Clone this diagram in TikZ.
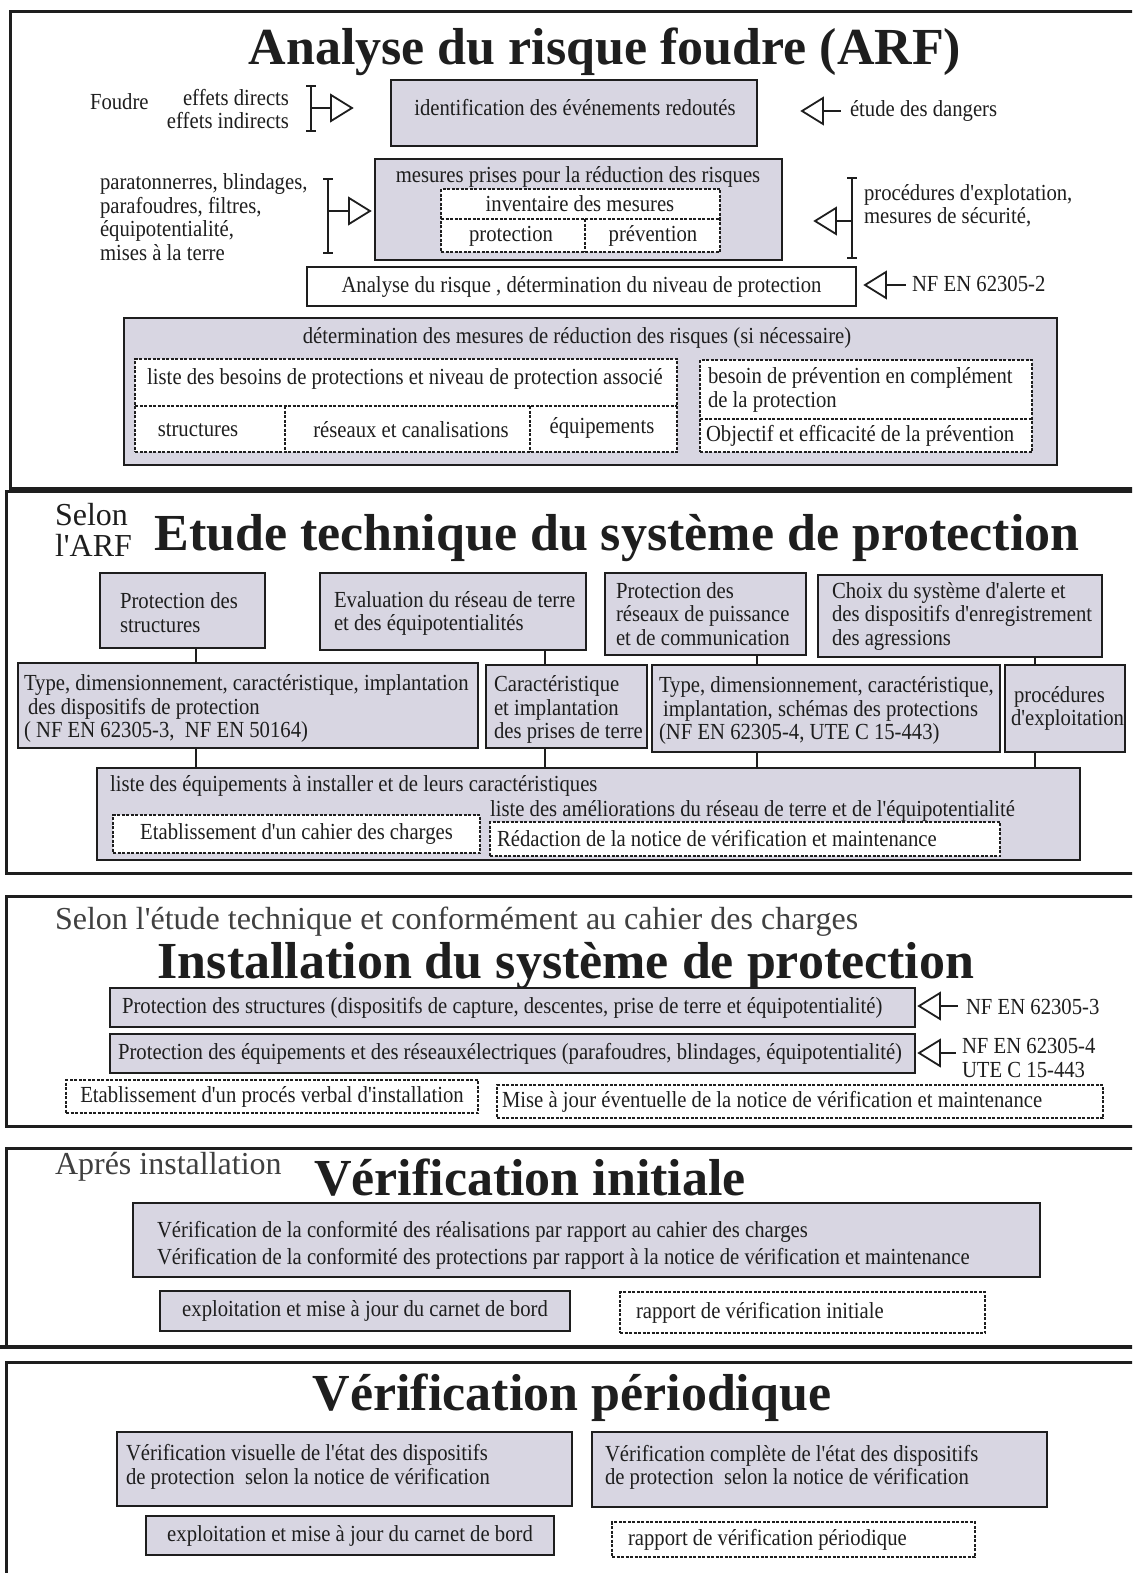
\documentclass[tikz,border=0pt]{standalone}
\usepackage{fontspec}
\setmainfont{Liberation Serif}[FakeStretch=0.9, Ligatures=TeXOff]
\newfontfamily\plainfont{Liberation Serif}
\definecolor{boxgrey}{RGB}{216,214,226}
\definecolor{ink}{RGB}{30,30,30}
\newcommand\myBody{\fontsize{23}{23.5}\selectfont}
\newcommand\myTitle{\plainfont\fontsize{52}{60}\selectfont\bfseries}
\newcommand\mySub{\plainfont\fontsize{32}{31}\selectfont}
\newcommand\mkbox[6]{\node[#1, minimum width={(#5)-(#3)}, minimum height={(#6)-(#4)}, anchor=north west] (#2) at (#3,#4) {};}
\newcommand\harrR[2]{\draw[harr] ({#1-21},{#2-13}) -- (#1,#2) -- ({#1-21},{#2+13}) -- cycle;}
\newcommand\harrL[2]{\draw[harr] ({#1+21},{#2-13}) -- (#1,#2) -- ({#1+21},{#2+13}) -- cycle;}
\newcommand\brk[3]{\draw[brk] (#1,#2) -- (#1,#3); \draw[brk] ({#1-5},#2) -- ({#1+5},#2); \draw[brk] ({#1-5},#3) -- ({#1+5},#3);}
\tikzset{
  gbox/.style={draw=ink, line width=2.2pt, fill=boxgrey, inner sep=0pt, outer sep=0pt},
  wbox/.style={draw=ink, line width=2.2pt, fill=white, inner sep=0pt, outer sep=0pt},
  dbox/.style={draw=ink, line width=1.5pt, dash pattern=on 3pt off 1.5pt, fill=white, inner sep=0pt, outer sep=0pt},
  dline/.style={draw=ink, line width=1.5pt, dash pattern=on 3pt off 1.5pt},
  txt/.style={inner sep=0pt, outer sep=0pt, font=\myBody, align=left, text=ink},
  ttl/.style={inner sep=0pt, outer sep=0pt, font=\myTitle, text=ink},
  sub/.style={inner sep=0pt, outer sep=0pt, font=\mySub, align=left, text=ink!85},
  frame/.style={draw=ink, line width=3pt},
  conn/.style={draw=ink, line width=1.8pt},
  brk/.style={draw=ink, line width=2pt},
  harr/.style={draw=ink, fill=white, line width=1.8pt, line join=miter},
}
\begin{document}
\begin{tikzpicture}[x=1pt, y=-1pt]
\useasboundingbox (0,0) rectangle (1132,1573);
\clip (0,0) rectangle (1132,1573);
\fill[white] (0,0) rectangle (1132,1573);

% ================= SECTION 1 =================
\draw[frame] (1140,12) -- (10,12) -- (10,488) -- (1140,488);
\node[ttl, anchor=base] (t1) at (605,65) {Analyse du risque foudre (ARF)};

\node[txt, anchor=west] (foudre) at (90,102) {Foudre};
\node[txt, anchor=east, align=right] (effets) at (289,109) {effets directs\\effets indirects};
\brk{311}{86}{131}
\draw[conn] (311,108) -- (331,108);
\harrR{352}{108}

\mkbox{gbox}{idb}{391}{80}{757}{146}
\node[txt] (idbt) at (575,108) {identification des événements redoutés};

\harrL{802}{111}
\draw[conn] (823,111) -- (841,111);
\node[txt, anchor=west] (etude) at (850,111) {étude des dangers};

\node[txt, anchor=west] (para) at (100,217) {paratonnerres, blindages,\\parafoudres, filtres,\\équipotentialité,\\mises à la terre};
\brk{328}{179}{253}
\draw[conn] (328,211) -- (349,211);
\harrR{370}{211}

\mkbox{gbox}{mes}{375}{159}{782}{260}
\node[txt] (mest) at (578,177) {mesures prises pour la réduction des risques};
\mkbox{dbox}{inv}{441}{189}{720}{252}
\draw[dline] (inv.west |- 0,219) -- (inv.east |- 0,219);
\coordinate (kv) at (585,0);
\draw[dline] (kv |- 0,219) -- (kv |- inv.south);
\node[txt] (invt) at (580,204) {inventaire des mesures};
\node[txt] (prot) at (511,236) {protection};
\node[txt] (prev) at (653,236) {prévention};

\brk{852}{178}{258}
\draw[conn] (836,221) -- (852,221);
\harrL{815}{221}
\node[txt, anchor=west] (procd) at (864,206) {procédures d'explotation,\\mesures de sécurité,};

\mkbox{wbox}{ana}{307}{267}{856}{306}
\node[txt] (anat) at (ana.center) {Analyse du risque , détermination du niveau de protection};
\harrL{865}{285}
\draw[conn] (886,285) -- (906,285);
\node[txt, anchor=west] (nf2) at (912,284) {NF EN 62305-2};

\mkbox{gbox}{det}{124}{318}{1057}{465}
\node[txt] (dett) at (577,338) {détermination des mesures de réduction des risques (si nécessaire)};
\mkbox{dbox}{bes}{135}{359}{677}{452}
\draw[dline] (135,406) -- (677,406);
\draw[dline] (285,406) -- (285,452);
\draw[dline] (530,406) -- (530,452);
\node[txt] (best) at (405,379) {liste des besoins de protections et niveau de protection associé};
\node[txt] (strc) at (198,430) {structures};
\node[txt] (resc) at (411,430) {réseaux et canalisations};
\node[txt] (equi) at (602,428) {équipements};
\mkbox{dbox}{bprev}{700}{360}{1032}{452}
\draw[dline] (700,419) -- (1032,419);
\node[txt, anchor=west] (bprevt) at (708,390) {besoin de prévention en complément\\de la protection};
\node[txt, anchor=west] (obj) at (706,436) {Objectif et efficacité de la prévention};

% ================= SECTION 2 =================
\draw[frame] (1140,491) -- (6,491) -- (6,873) -- (1140,873);
\node[sub, anchor=west, text=ink] (selon) at (55,530) {Selon\\l'ARF};
\node[ttl, anchor=base] (t2) at (617,550) {Etude technique du système de protection};

\mkbox{gbox}{pstr}{100}{573}{265}{648}
\node[txt, anchor=west] (pstrt) at ([xshift=20pt,yshift=-2pt]pstr.west) {Protection des\\structures};
\mkbox{gbox}{eval}{320}{573}{586}{650}
\node[txt, anchor=west] (evalt) at ([xshift=14pt,yshift=-2pt]eval.west) {Evaluation du réseau de terre\\et des équipotentialités};
\mkbox{gbox}{pres}{605}{573}{806}{655}
\node[txt, anchor=west] (prest) at ([xshift=11pt]pres.west) {Protection des\\réseaux de puissance\\et de communication};
\mkbox{gbox}{choix}{818}{575}{1102}{657}
\node[txt, anchor=west] (choixt) at ([xshift=14pt]choix.west) {Choix du système d'alerte et\\des dispositifs d'enregistrement\\des agressions};

\mkbox{gbox}{typa}{18}{663}{478}{748}
\node[txt, anchor=west] (typat) at ([xshift=6pt,yshift=-3pt]typa.west) {Type, dimensionnement, caractéristique, implantation\\\hspace*{4pt}des dispositifs de protection\\( NF EN 62305-3,\ \ NF EN 50164)};
\mkbox{gbox}{cara}{486}{665}{647}{748}
\node[txt, anchor=west] (carat) at ([xshift=8pt,yshift=-3pt]cara.west) {Caractéristique\\et implantation\\des prises de terre};
\mkbox{gbox}{typb}{652}{665}{1000}{752}
\node[txt, anchor=west] (typbt) at ([xshift=7pt,yshift=-2pt]typb.west) {Type, dimensionnement, caractéristique,\\\hspace*{4pt}implantation, schémas des protections\\(NF EN 62305-4, UTE C 15-443)};
\mkbox{gbox}{proc}{1005}{665}{1125}{752}
\node[txt, anchor=west] (proct) at ([xshift=6pt]proc.west) {\hspace*{3pt}procédures\\d'exploitation};

\mkbox{gbox}{liste}{97}{768}{1080}{860}
\node[txt, anchor=west] (listet) at (110,786) {liste des équipements à installer et de leurs caractéristiques};
\node[txt, anchor=west] (amel) at (490,811) {liste des améliorations du réseau de terre et de l'équipotentialité};
\mkbox{dbox}{cdc}{113}{815}{480}{853}
\node[txt] (cdct) at (cdc.center) {Etablissement d'un cahier des charges};
\mkbox{dbox}{redac}{490}{822}{1000}{856}
\node[txt, anchor=west] (redact) at ([xshift=7pt]redac.west) {Rédaction de la notice de vérification et maintenance};

\coordinate (k1) at (196,0);
\coordinate (k2) at (545,0);
\coordinate (k3) at (757,0);
\coordinate (k4) at (1035,0);
\draw[conn] (pstr.south -| k1) -- (typa.north -| k1);
\draw[conn] (eval.south -| k2) -- (cara.north -| k2);
\draw[conn] (pres.south -| k3) -- (typb.north -| k3);
\draw[conn] (choix.south -| k4) -- (proc.north -| k4);
\draw[conn] (typa.south -| k1) -- (liste.north -| k1);
\draw[conn] (cara.south -| k2) -- (liste.north -| k2);
\draw[conn] (typb.south -| k3) -- (liste.north -| k3);
\draw[conn] (proc.south -| k4) -- (liste.north -| k4);

% ================= SECTION 3 =================
\draw[frame] (1140,896) -- (6,896) -- (6,1126) -- (1140,1126);
\node[sub, anchor=west] (selon2) at (55,922) {Selon l'étude technique et conformément au cahier des charges};
\node[ttl, anchor=base] (t3) at (566,978) {Installation du système de protection};

\mkbox{gbox}{istr}{110}{988}{915}{1027}
\node[txt, anchor=west] (istrt) at ([xshift=12pt]istr.west) {Protection des structures (dispositifs de capture, descentes, prise de terre et équipotentialité)};
\harrL{919}{1006}
\draw[conn] (940,1006) -- (958,1006);
\node[txt, anchor=west] (nf3) at (966,1007) {NF EN 62305-3};

\mkbox{gbox}{ieq}{110}{1034}{915}{1073}
\node[txt, anchor=west] (ieqt) at ([xshift=8pt]ieq.west) {Protection des équipements et des réseauxélectriques (parafoudres, blindages, équipotentialité)};
\harrL{919}{1053}
\draw[conn] (940,1053) -- (956,1053);
\node[txt, anchor=west] (nf4) at (962,1058) {NF EN 62305-4\\UTE C 15-443};

\mkbox{dbox}{pv}{66}{1080}{478}{1113}
\node[txt] (pvt) at (pv.center) {Etablissement d'un procés verbal d'installation};
\mkbox{dbox}{maj}{497}{1085}{1103}{1118}
\node[txt, anchor=west] (majt) at ([xshift=5pt]maj.west) {Mise à jour éventuelle de la notice de vérification et maintenance};

% ================= SECTION 4 =================
\draw[frame] (1140,1148) -- (6,1148) -- (6,1346);
\draw[draw=ink, line width=4pt] (0,1347) -- (1140,1347);
\node[sub, anchor=west] (apres) at (55,1167) {Aprés installation};
\node[ttl, anchor=base] (t4) at (530,1195) {Vérification initiale};

\mkbox{gbox}{vconf}{133}{1203}{1040}{1277}
\node[txt, anchor=west, font=\fontsize{23}{27}\selectfont] (vconft) at (157,1245) {Vérification de la conformité des réalisations par rapport au cahier des charges\\Vérification de la conformité des protections par rapport à la notice de vérification et maintenance};
\mkbox{gbox}{expa}{160}{1291}{570}{1331}
\node[txt] (expat) at (expa.center) {exploitation et mise à jour du carnet de bord};
\mkbox{dbox}{rapa}{620}{1292}{985}{1333}
\node[txt, anchor=west] (rapat) at ([xshift=16pt]rapa.west) {rapport de vérification initiale};

% ================= SECTION 5 =================
\draw[frame] (1140,1362) -- (6,1362) -- (6,1580);
\node[ttl, anchor=base] (t5) at (572,1410) {Vérification périodique};

\mkbox{gbox}{vvis}{117}{1432}{572}{1506}
\node[txt, anchor=west] (vvist) at ([xshift=9pt,yshift=2pt]vvis.west) {Vérification visuelle de l'état des dispositifs\\de protection\ \ selon la notice de vérification};
\mkbox{gbox}{vcomp}{592}{1432}{1047}{1507}
\node[txt, anchor=west] (vcompt) at ([xshift=13pt,yshift=2pt]vcomp.west) {Vérification complète de l'état des dispositifs\\de protection\ \ selon la notice de vérification};
\mkbox{gbox}{expb}{146}{1516}{554}{1555}
\node[txt] (expbt) at (expb.center) {exploitation et mise à jour du carnet de bord};
\mkbox{dbox}{rapb}{612}{1522}{975}{1557}
\node[txt, anchor=west] (rapbt) at ([xshift=16pt]rapb.west) {rapport de vérification périodique};
\end{tikzpicture}
\end{document}
